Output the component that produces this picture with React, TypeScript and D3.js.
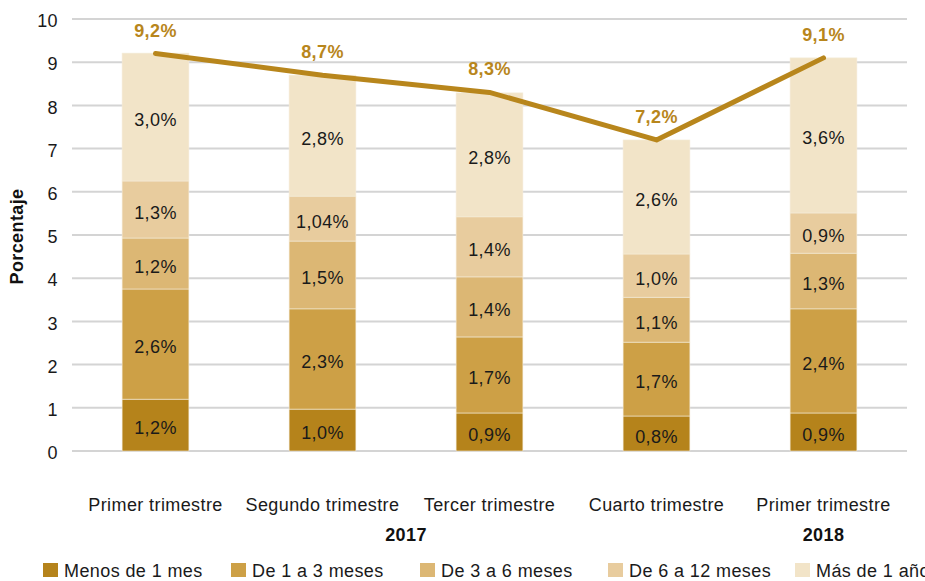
import React from "react";
import * as d3 from "d3";

const categories = ["Primer trimestre", "Segundo trimestre", "Tercer trimestre", "Cuarto trimestre", "Primer trimestre"];
const seriesNames = ["Menos de 1 mes", "De 1 a 3 meses", "De 3 a 6 meses", "De 6 a 12 meses", "Más de 1 año"];
const menos1 = [1.2, 0.97, 0.88, 0.81, 0.88];
const de1a3 = [2.55, 2.32, 1.76, 1.71, 2.41];
const de3a6 = [1.18, 1.57, 1.39, 1.04, 1.29];
const de6a12 = [1.32, 1.04, 1.39, 1.0, 0.93];
const mas1 = [2.96, 2.8, 2.87, 2.64, 3.59];
const labels = [
  ["1,2%", "1,0%", "0,9%", "0,8%", "0,9%"],
  ["2,6%", "2,3%", "1,7%", "1,7%", "2,4%"],
  ["1,2%", "1,5%", "1,4%", "1,1%", "1,3%"],
  ["1,3%", "1,04%", "1,4%", "1,0%", "0,9%"],
  ["3,0%", "2,8%", "2,8%", "2,6%", "3,6%"],
];
const totals = [9.2, 8.7, 8.3, 7.2, 9.1];
const totalLabels = ["9,2%", "8,7%", "8,3%", "7,2%", "9,1%"];
const yTicks = [0, 1, 2, 3, 4, 5, 6, 7, 8, 9, 10];
const years = [{ label: "2017", from: 0, to: 3 }, { label: "2018", from: 4, to: 4 }];

const colors = ["#b5831b", "#cda046", "#dcb774", "#e8cc9e", "#f2e4c8"];
const lineColor = "#b8861c";
const textColor = "#1a1a1a";
const font = "'Liberation Sans', Arial, Helvetica, sans-serif";

export default function App() {
  const W = 925, H = 581;
  const left = 72, right = 907, top = 19, bottom = 451;
  const x = d3.scaleBand<number>().domain(d3.range(categories.length)).range([left, right]).paddingInner(0.6).paddingOuter(0.3);
  const y = d3.scaleLinear().domain([0, 10]).range([bottom, top]);
  const series = [menos1, de1a3, de3a6, de6a12, mas1];
  const rows = categories.map((_, i) => {
    const o: any = { i };
    seriesNames.forEach((n, k) => (o[n] = series[k][i]));
    return o;
  });
  const stacked = d3.stack<any>().keys(seriesNames)(rows);
  const cx = (i: number) => (x(i) as number) + x.bandwidth() / 2;
  const line = d3.line<number>().x((_, i) => cx(i)).y((d) => y(d));
  const legendX = [43, 231, 420, 608, 795];
  const fs = 18;
  const ls = 0.4;

  return (
    <svg width={W} height={H} style={{ position: "absolute", left: 0, top: 0, display: "block" }} fontFamily={font} letterSpacing={ls}>
      {yTicks.map((t) => (
        <g key={t}>
          <line x1={left} x2={right} y1={y(t)} y2={y(t)} stroke="#d4d4d4" strokeWidth={2} />
          <text x={58} y={y(t)} dy="0.45em" textAnchor="end" fontSize={fs} fill={textColor}>{t}</text>
        </g>
      ))}
      <text transform={`translate(23,${(188 + 285) / 2}) rotate(-90)`} textAnchor="middle" fontSize={18} fontWeight="bold" fill="#111">Porcentaje</text>
      {stacked.map((s, k) => (
        <g key={k}>
          {s.map((d, i) => (
            <g key={i}>
              <rect x={x(i)} width={x.bandwidth()} y={y(d[1])} height={y(d[0]) - y(d[1])} fill={colors[k]} stroke="#f4ecd9" strokeWidth={0.6} />
              <text x={cx(i)} y={(y(d[0]) + y(d[1])) / 2} dy="0.5em" textAnchor="middle" fontSize={fs} fill={textColor}>{labels[k][i]}</text>
            </g>
          ))}
        </g>
      ))}
      <path d={line(totals) || ""} fill="none" stroke={lineColor} strokeWidth={5} strokeLinecap="round" strokeLinejoin="round" />
      {totals.map((t, i) => (
        <text key={i} x={cx(i)} y={y(t) - 17} textAnchor="middle" fontSize={fs} fontWeight="bold" fill={lineColor}>{totalLabels[i]}</text>
      ))}
      {categories.map((c, i) => (
        <text key={i} x={cx(i)} y={511} textAnchor="middle" fontSize={fs} fill={textColor}>{c}</text>
      ))}
      {years.map((yr) => (
        <text key={yr.label} x={(cx(yr.from) + cx(yr.to)) / 2} y={541} textAnchor="middle" fontSize={fs} fontWeight="bold" fill="#111">{yr.label}</text>
      ))}
      {seriesNames.map((n, k) => (
        <g key={n}>
          <rect x={legendX[k]} y={563} width={15} height={14} fill={colors[k]} />
          <text x={legendX[k] + 21} y={577} fontSize={fs} fill={textColor}>{n}</text>
        </g>
      ))}
    </svg>
  );
}
